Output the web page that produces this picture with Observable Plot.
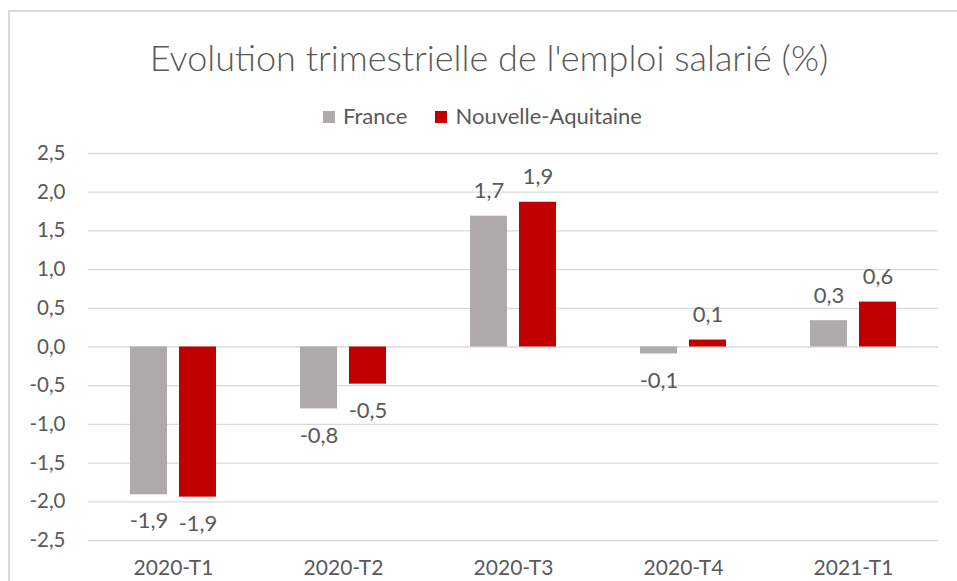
<!DOCTYPE html>
<html><head><meta charset="utf-8">
<script src="https://cdn.jsdelivr.net/npm/d3@7"></script>
<script src="https://cdn.jsdelivr.net/npm/@observablehq/plot@0.6"></script>
<style>
html,body{margin:0;padding:0;background:#fff;overflow:hidden;width:957px;height:581px}
#frame{position:absolute;left:8px;top:10px;width:1000px;height:700px;border-left:2px solid #d9d9d9;border-top:2px solid #d9d9d9;box-sizing:border-box}
#wrap{position:absolute;left:0;top:0;width:957px;height:581px;font-family:Lato, sans-serif;color:#595959}
#head{position:relative;height:130px;width:957px}
#title{position:absolute;left:0;width:978px;top:39px;text-align:center;font-size:36px;font-weight:300;line-height:1;white-space:nowrap}
#legend{position:absolute;left:0;width:965px;top:105px;display:flex;justify-content:center;align-items:center;font-size:22px;line-height:1}
.item{display:flex;align-items:center;margin:0 14px}
.sw{width:12px;height:12px;margin-right:8px;margin-top:2px}
svg{display:block}
</style></head>
<body>
<div id="frame"></div>
<div id="wrap">
  <div id="head">
    <div id="title">Evolution trimestrielle de l'emploi salarié (%)</div>
    <div id="legend"></div>
  </div>
  <div id="chart"></div>
</div>
<script>
const categories = ["2020-T1", "2020-T2", "2020-T3", "2020-T4", "2021-T1"];
const series = ["France", "Nouvelle-Aquitaine"];
const franceValues = [-1.91, -0.80, 1.69, -0.09, 0.34];
const aquitaineValues = [-1.94, -0.48, 1.87, 0.09, 0.58];
const yTicks = [-2.5, -2, -1.5, -1, -0.5, 0, 0.5, 1, 1.5, 2, 2.5];
const colors = ["#AEAAAA", "#C00000"];

const data = categories.flatMap((c, i) => [
  {category: c, series: series[0], value: franceValues[i]},
  {category: c, series: series[1], value: aquitaineValues[i]}
]);
const fmt = v => v.toFixed(1).replace(".", ",");

const legend = document.getElementById("legend");
series.forEach((s, i) => {
  const it = document.createElement("div");
  it.className = "item";
  it.innerHTML = `<span class="sw" style="background:${colors[i]}"></span><span>${s}</span>`;
  legend.appendChild(it);
});

const chart = Plot.plot({
  width: 957,
  height: 451,
  marginLeft: 86,
  marginRight: 17,
  marginTop: 23,
  marginBottom: 41,
  style: {fontFamily: "Lato, sans-serif", fontSize: "20px", color: "#595959", background: "transparent", overflow: "visible"},
  fx: {domain: categories, padding: 0, label: null, axis: null},
  x: {domain: series, axis: null, paddingInner: 0.24, paddingOuter: 0.828},
  y: {domain: [-2.5, 2.5], axis: null},
  color: {domain: series, range: colors},
  marks: [
    Plot.ruleY(yTicks, {stroke: "#d9d9d9", strokeWidth: 1.3}),
    Plot.axisY(yTicks, {tickFormat: fmt, tickSize: 0, tickPadding: 23, label: null, anchor: "left", fontSize: 20.5}),
    Plot.axisFx({anchor: "bottom", tickSize: 0, tickPadding: 20, label: null, fontSize: 21}),
    Plot.barY(data, {fx: "category", x: "series", y: "value", fill: "series", inset: 0}),
    Plot.text(data.filter(d => d.value >= 0), {fx: "category", x: "series", y: "value", text: d => fmt(d.value), lineAnchor: "bottom", dy: -18, fontSize: 22, fill: "#595959"}),
    Plot.text(data.filter(d => d.value < 0), {fx: "category", x: "series", y: "value", text: d => fmt(d.value), lineAnchor: "top", dy: 18, fontSize: 22, fill: "#595959"})
  ]
});
document.getElementById("chart").appendChild(chart);
</script>
</body></html>
